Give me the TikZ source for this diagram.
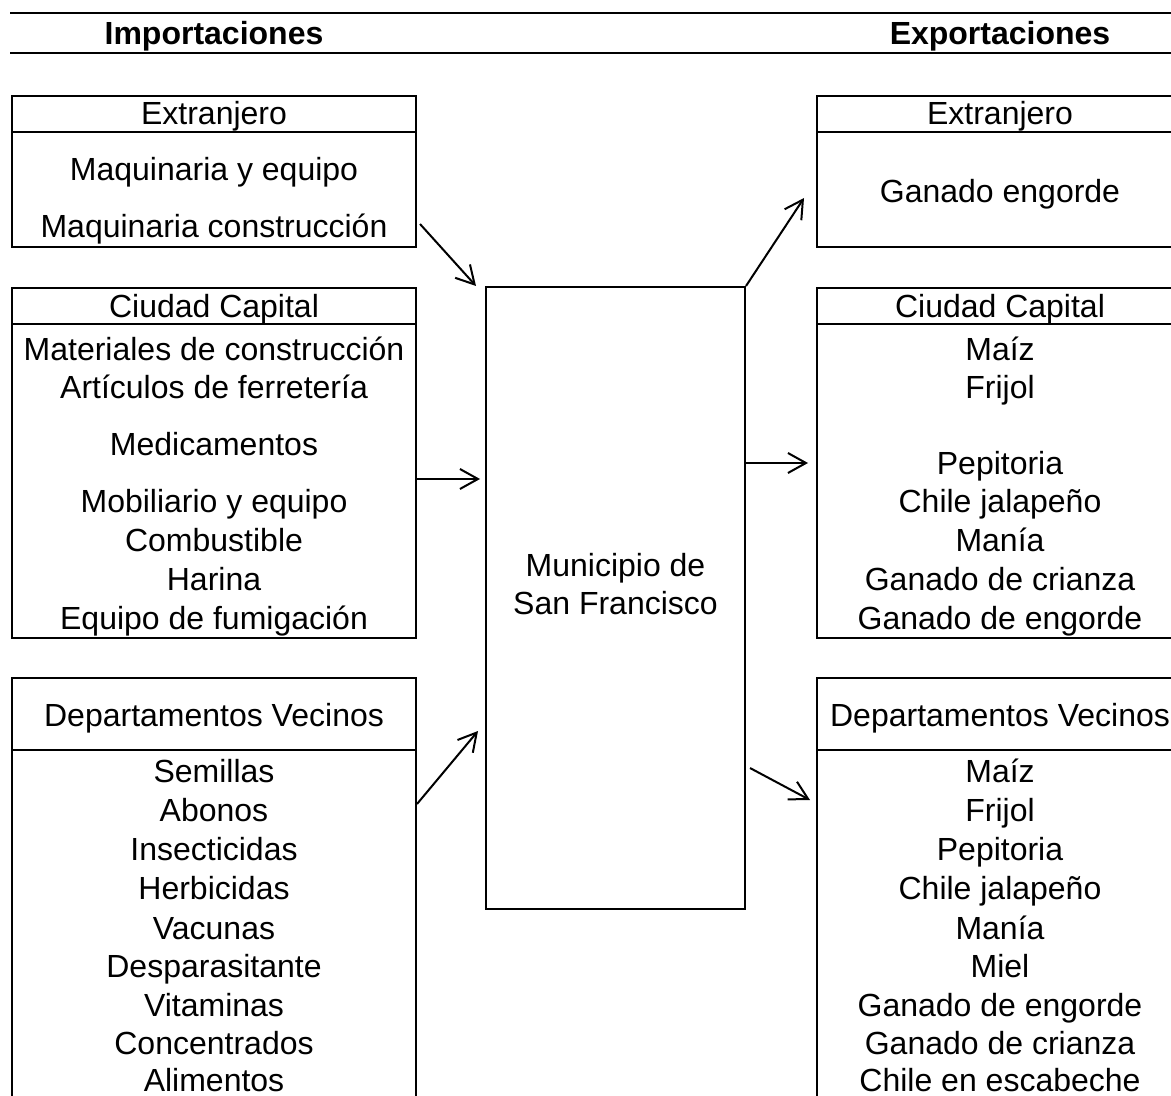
\documentclass[tikz,border=0pt]{standalone}
\usepackage{fontspec}
\setmainfont{Liberation Sans}
\usetikzlibrary{arrows.meta}

\begin{document}
\begin{tikzpicture}[x=0.5pt,y=-0.5pt,
  box/.style={draw, line width=1pt, inner sep=0pt},
  flow/.style={line width=1pt, -{Straight Barb[length=9pt,width=10pt,line width=1pt]}},
  txt/.style={anchor=base, inner sep=0pt, font=\fontsize{16}{19.5}\selectfont}]
\useasboundingbox (0,0) rectangle (1171,1096);
\clip (0,0) rectangle (1171,1096);

% titles
\draw[line width=1pt] (10,13) -- (1171,13);
\draw[line width=1pt] (10,53) -- (1171,53);
\node[txt, font=\fontsize{16}{19.5}\selectfont\bfseries] (imp) at (214,45) {Importaciones};
\node[txt, font=\fontsize{16}{19.5}\selectfont\bfseries] (exp) at (1000,45) {Exportaciones};

% importaciones
\node[box, minimum width=202pt, minimum height=75.5pt] (impExt) at (214,171.5) {};
\draw[line width=1pt] ([yshift=-18.5pt]impExt.north west) -- ([yshift=-18.5pt]impExt.north east);
\node[box, minimum width=202pt, minimum height=175pt] (impCap) at (214,463) {};
\draw[line width=1pt] ([yshift=-18.5pt]impCap.north west) -- ([yshift=-18.5pt]impCap.north east);
\node[box, minimum width=202pt, minimum height=221pt] (impDep) at (214,899) {};
\draw[line width=1pt] ([yshift=-36.5pt]impDep.north west) -- ([yshift=-36.5pt]impDep.north east);

\node[txt] (impExtT) at (214,125) {Extranjero};
\foreach \t/\y [count=\i] in {Maquinaria y equipo/181, Maquinaria construcción/238}
  \node[txt] (impExt\i) at (214,\y) {\t};
\node[txt] (impCapT) at (214,318) {Ciudad Capital};
\foreach \t/\y [count=\i] in {Materiales de construcción/360, Artículos de ferretería/398,
  Medicamentos/455, Mobiliario y equipo/512, Combustible/551, Harina/590, Equipo de fumigación/629}
  \node[txt] (impCap\i) at (214,\y) {\t};
\node[txt] (impDepT) at (214,726) {Departamentos Vecinos};
\foreach \t/\y [count=\i] in {Semillas/782, Abonos/821, Insecticidas/860, Herbicidas/899,
  Vacunas/939, Desparasitante/977, Vitaminas/1016, Concentrados/1054, Alimentos/1091}
  \node[txt] (impDep\i) at (214,\y) {\t};

% municipio
\node[box, minimum width=129.5pt, minimum height=311pt] (mun) at (615.5,598) {};
\node[txt] (mun1) at (615.5,576) {Municipio de};
\node[txt] (mun2) at (615.5,614) {San Francisco};

% exportaciones
\node[box, minimum width=184pt, minimum height=75.5pt] (expExt) at (1001,171.5) {};
\draw[line width=1pt] ([yshift=-18.5pt]expExt.north west) -- ([yshift=-18.5pt]expExt.north east);
\node[box, minimum width=184pt, minimum height=175pt] (expCap) at (1001,463) {};
\draw[line width=1pt] ([yshift=-18.5pt]expCap.north west) -- ([yshift=-18.5pt]expCap.north east);
\node[box, minimum width=184pt, minimum height=221pt] (expDep) at (1001,899) {};
\draw[line width=1pt] ([yshift=-36.5pt]expDep.north west) -- ([yshift=-36.5pt]expDep.north east);

\node[txt] (expExtT) at (1000,125) {Extranjero};
\node[txt] (expExt1) at (1000,203) {Ganado engorde};
\node[txt] (expCapT) at (1000,318) {Ciudad Capital};
\foreach \t/\y [count=\i] in {Maíz/360, Frijol/398, Pepitoria/474, Chile jalapeño/512,
  Manía/551, Ganado de crianza/590, Ganado de engorde/629}
  \node[txt] (expCap\i) at (1000,\y) {\t};
\node[txt] (expDepT) at (1000,726) {Departamentos Vecinos};
\foreach \t/\y [count=\i] in {Maíz/782, Frijol/821, Pepitoria/860, Chile jalapeño/899,
  Manía/939, Miel/977, Ganado de engorde/1016, Ganado de crianza/1054, Chile en escabeche/1091}
  \node[txt] (expDep\i) at (1000,\y) {\t};

% flechas
\draw[flow] ([xshift=1.5pt,yshift=-26.25pt]impExt.east) -- ([xshift=-4.5pt]mun.north west);
\draw[flow] ([yshift=-8pt]impCap.east) -- ++(63,0);
\draw[flow] ([yshift=47.5pt]impDep.east) -- ++(61,-73);
\draw[flow] (mun.north east) -- ++(58,-88);
\draw[flow] ([yshift=67.5pt]mun.east) -- ++(62,0);
\draw[flow] ([xshift=2pt,yshift=-85pt]mun.east) -- ++(60,32);
\end{tikzpicture}
\end{document}
